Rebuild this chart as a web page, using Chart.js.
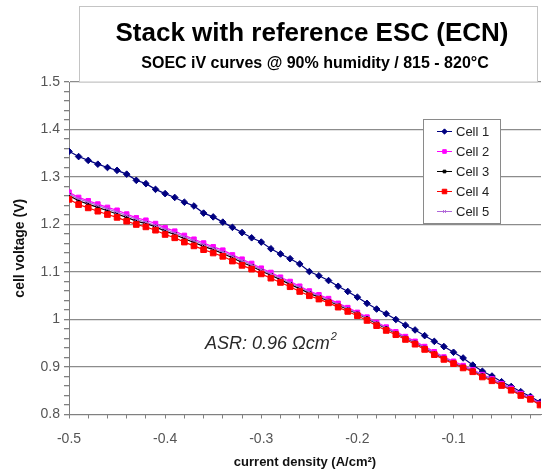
<!DOCTYPE html>
<html>
<head>
<meta charset="utf-8">
<script src="https://cdn.jsdelivr.net/npm/chart.js@4.4.0/dist/chart.umd.min.js"></script>
<style>
html, body { margin: 0; padding: 0; background: #fff; }
#wrap { width: 546px; height: 470px; position: relative; }
</style>
</head>
<body>
<div id="wrap"><canvas id="ivChart" width="546" height="470"></canvas></div>
<script>
// current density (A/cm2)
const currentDensity = [-0.50, -0.49, -0.48, -0.47, -0.46, -0.45, -0.44, -0.43, -0.42, -0.41,
    -0.40, -0.39, -0.38, -0.37, -0.36, -0.35, -0.34, -0.33, -0.32, -0.31,
    -0.30, -0.29, -0.28, -0.27, -0.26, -0.25, -0.24, -0.23, -0.22, -0.21,
    -0.20, -0.19, -0.18, -0.17, -0.16, -0.15, -0.14, -0.13, -0.12, -0.11,
    -0.10, -0.09, -0.08, -0.07, -0.06, -0.05, -0.04, -0.03, -0.02, -0.01];

// cell voltages (V)
const cell1 = [1.354, 1.343, 1.335, 1.327, 1.320, 1.314, 1.306, 1.293, 1.286, 1.274,
    1.265, 1.257, 1.247, 1.239, 1.224, 1.216, 1.205, 1.194, 1.183, 1.172,
    1.163, 1.149, 1.138, 1.128, 1.117, 1.101, 1.092, 1.082, 1.070, 1.059,
    1.047, 1.034, 1.022, 1.012, 1.000, 0.988, 0.978, 0.966, 0.954, 0.943,
    0.931, 0.919, 0.904, 0.891, 0.881, 0.869, 0.859, 0.848, 0.838, 0.826];
const cell2 = [1.268, 1.257, 1.250, 1.243, 1.236, 1.230, 1.222, 1.214, 1.209, 1.202,
    1.193, 1.186, 1.177, 1.169, 1.161, 1.153, 1.146, 1.136, 1.127, 1.118,
    1.108, 1.099, 1.089, 1.080, 1.070, 1.060, 1.052, 1.044, 1.034, 1.025,
    1.015, 1.005, 0.994, 0.984, 0.974, 0.964, 0.954, 0.943, 0.932, 0.921,
    0.912, 0.903, 0.894, 0.884, 0.875, 0.865, 0.855, 0.844, 0.835, 0.823];
const cell3 = [1.261, 1.250, 1.243, 1.236, 1.229, 1.222, 1.215, 1.207, 1.202, 1.195,
    1.186, 1.179, 1.170, 1.162, 1.154, 1.147, 1.139, 1.130, 1.120, 1.112,
    1.102, 1.093, 1.084, 1.074, 1.065, 1.055, 1.047, 1.039, 1.030, 1.021,
    1.012, 1.002, 0.991, 0.981, 0.971, 0.961, 0.951, 0.940, 0.929, 0.919,
    0.909, 0.900, 0.892, 0.882, 0.873, 0.863, 0.853, 0.842, 0.833, 0.822];
const cell4 = [1.253, 1.242, 1.235, 1.228, 1.221, 1.215, 1.207, 1.200, 1.195, 1.188,
    1.179, 1.172, 1.163, 1.155, 1.147, 1.140, 1.133, 1.123, 1.114, 1.106,
    1.096, 1.087, 1.078, 1.069, 1.059, 1.050, 1.043, 1.035, 1.026, 1.017,
    1.008, 0.998, 0.987, 0.977, 0.968, 0.958, 0.948, 0.937, 0.926, 0.916,
    0.907, 0.898, 0.890, 0.879, 0.871, 0.861, 0.851, 0.840, 0.832, 0.820];
const cell5 = [1.264, 1.254, 1.247, 1.240, 1.233, 1.226, 1.219, 1.211, 1.205, 1.198,
    1.190, 1.182, 1.174, 1.166, 1.158, 1.150, 1.142, 1.133, 1.124, 1.115,
    1.105, 1.096, 1.087, 1.077, 1.068, 1.058, 1.050, 1.041, 1.032, 1.023,
    1.013, 1.003, 0.993, 0.982, 0.972, 0.962, 0.952, 0.941, 0.930, 0.920,
    0.910, 0.901, 0.893, 0.883, 0.874, 0.864, 0.854, 0.843, 0.834, 0.822];

const cellNames = ['Cell 1', 'Cell 2', 'Cell 3', 'Cell 4', 'Cell 5'];

// tick labels
const xTickLabels = [-0.5, -0.4, -0.3, -0.2, -0.1];
const yTickLabels = [0.8, 0.9, 1.0, 1.1, 1.2, 1.3, 1.4, 1.5];

const FONT = '"Liberation Sans", Arial, Helvetica, sans-serif';
const GRID = '#8c8c8c';

// major ticks every 0.1, minor every 0.02
function withMinor(majors, lastMinor) {
    const out = [];
    for (let i = 0; i < majors.length; i++) {
        const end = i < majors.length - 1 ? majors[i + 1] : lastMinor;
        for (let v = majors[i]; v < end - 1e-9; v += 0.02) out.push(+v.toFixed(2));
    }
    out.push(+lastMinor.toFixed(2));
    return out;
}
const isMajor = (v, majors) => majors.some(m => Math.abs(m - v) < 1e-6);
const fmt = v => String(+v.toFixed(2));

function toPoints(vals) {
    return currentDensity.map((x, i) => ({ x: x, y: vals[i] }));
}

const seriesStyle = [
    { color: '#000080', shape: 'rectRot', r: 3.3, order: 5 },
    { color: '#ff00ff', shape: 'rect', r: 3.2, order: 4 },
    { color: '#000000', shape: 'rect', r: 2.4, order: 3 },
    { color: '#ff0000', shape: 'rect', r: 4, order: 1 },
    { color: '#b066d8', shape: 'crossRot', r: 2.5, order: 2 }
];
const allCells = [cell1, cell2, cell3, cell4, cell5];

const datasets = allCells.map((vals, i) => ({
    label: cellNames[i],
    data: toPoints(vals),
    borderColor: seriesStyle[i].color,
    backgroundColor: seriesStyle[i].color,
    pointStyle: seriesStyle[i].shape,
    pointRadius: seriesStyle[i].r,
    pointBorderWidth: 1,
    borderWidth: 1.2,
    order: seriesStyle[i].order,
    tension: 0
}));

// header box, ASR note and legend box drawn on the canvas
const decorPlugin = {
    id: 'decor',
    afterDraw(chart) {
        const ctx = chart.ctx;
        ctx.save();
        // header box
        ctx.fillStyle = '#fff';
        ctx.fillRect(79, 6, 458, 76);
        ctx.strokeStyle = '#c4c4c4';
        ctx.lineWidth = 1;
        ctx.strokeRect(79.5, 6.5, 458, 75.5);
        ctx.fillStyle = '#000';
        ctx.textAlign = 'center';
        ctx.textBaseline = 'middle';
        ctx.font = 'bold 26px ' + FONT;
        ctx.fillText('Stack with reference ESC (ECN)', 312, 34);
        ctx.font = 'bold 16px ' + FONT;
        ctx.fillText('SOEC iV curves @ 90% humidity / 815 - 820°C', 315, 64);

        // ASR note
        ctx.textAlign = 'left';
        ctx.textBaseline = 'alphabetic';
        ctx.fillStyle = '#2a2a2a';
        ctx.font = 'italic 18px ' + FONT;
        const asr = 'ASR: 0.96 Ωcm';
        ctx.fillText(asr, 205, 349);
        const w = ctx.measureText(asr).width;
        ctx.font = 'italic 11px ' + FONT;
        ctx.fillText('2', 205 + w + 1, 340);

        // legend
        const lx = 423, ly = 119, lw = 77, lh = 104;
        ctx.fillStyle = '#fff';
        ctx.fillRect(lx, ly, lw, lh);
        ctx.strokeStyle = '#8a8a8a';
        ctx.strokeRect(lx + 0.5, ly + 0.5, lw, lh);
        ctx.font = '13px ' + FONT;
        ctx.textBaseline = 'middle';
        chart.data.datasets.forEach((ds, i) => {
            const y = 131 + i * 20;
            ctx.strokeStyle = ds.borderColor;
            ctx.lineWidth = 1;
            ctx.beginPath();
            ctx.moveTo(437, y + 0.5);
            ctx.lineTo(452, y + 0.5);
            ctx.stroke();
            ctx.fillStyle = ds.backgroundColor;
            Chart.helpers.drawPoint(ctx, {
                pointStyle: ds.pointStyle, radius: ds.pointRadius * 0.8,
                rotation: 0, borderWidth: 1
            }, 444.5, y + 0.5);
            ctx.fillStyle = '#222';
            ctx.fillText(ds.label, 456, y + 1);
        });
        ctx.restore();
    }
};

new Chart(document.getElementById('ivChart'), {
    type: 'line',
    data: { datasets: datasets },
    plugins: [decorPlugin],
    options: {
        responsive: false,
        animation: false,
        layout: { padding: { top: 82, right: 0, bottom: 0, left: 0 } },
        plugins: { legend: { display: false }, tooltip: { enabled: false } },
        scales: {
            x: {
                type: 'linear',
                min: -0.5,
                max: -0.009,
                afterBuildTicks: s => { s.ticks = withMinor(xTickLabels, -0.02).map(v => ({ value: v })); },
                afterFit: s => { s.height = 55.5; },
                border: { color: '#808080', width: 1 },
                grid: { drawOnChartArea: false, tickColor: '#808080', tickLength: 4 },
                ticks: {
                    autoSkip: false, maxRotation: 0, padding: 12,
                    color: '#555', font: { family: FONT, size: 14 },
                    callback: v => isMajor(v, xTickLabels) ? fmt(v) : ''
                },
                title: {
                    display: true, text: 'current density (A/cm²)', color: '#111',
                    font: { family: FONT, size: 13, weight: 'bold' },
                    padding: { top: 0, bottom: 0 }
                }
            },
            y: {
                type: 'linear',
                min: 0.8,
                max: 1.5,
                afterBuildTicks: s => { s.ticks = withMinor(yTickLabels.slice(0, -1), 1.5).map(v => ({ value: v })); },
                afterFit: s => { s.width = 69; },
                border: { color: '#808080', width: 1 },
                grid: {
                    color: c => isMajor(c.tick.value, yTickLabels) ? GRID : 'rgba(0,0,0,0)',
                    lineWidth: 1.3,
                    tickColor: '#808080', tickLength: 5
                },
                ticks: {
                    autoSkip: false, padding: 4,
                    color: '#555', font: { family: FONT, size: 14 },
                    callback: v => isMajor(v, yTickLabels) ? fmt(v) : ''
                },
                title: {
                    display: true, text: 'cell voltage (V)', color: '#111',
                    font: { family: FONT, size: 14, weight: 'bold' },
                    padding: { top: 12, bottom: 0 }
                }
            }
        }
    }
});
</script>
</body>
</html>
